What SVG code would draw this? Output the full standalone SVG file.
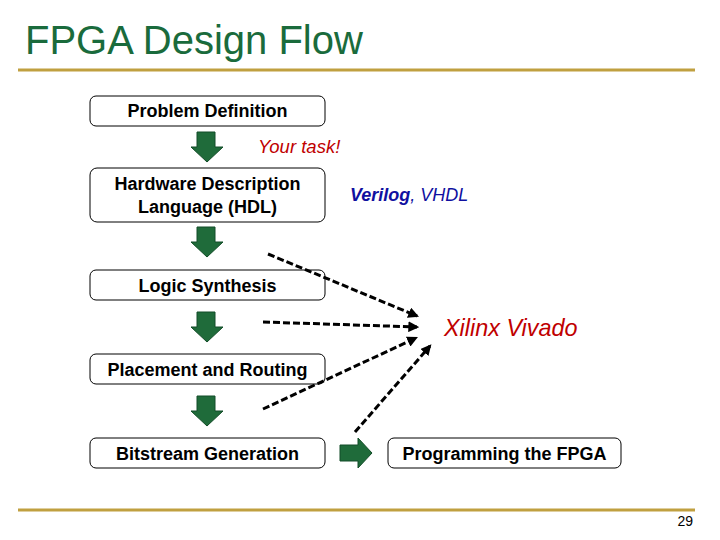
<svg xmlns="http://www.w3.org/2000/svg" width="720" height="540" viewBox="0 0 720 540">
<defs>
<style>
.box{fill:#fff;stroke:#000;stroke-width:1}
.bt{font-family:"Liberation Sans",Arial,sans-serif;font-weight:bold;font-size:18px;fill:#000;text-anchor:middle}
.ga{fill:#1f6b3a;stroke:#134d28;stroke-width:1}
.dash{fill:none;stroke:#000;stroke-width:3;stroke-dasharray:7 3;marker-end:url(#ah)}
.rule{stroke:#c0a040;stroke-width:3}
</style>
<marker id="ah" viewBox="0 0 10 10" refX="8" refY="5" markerWidth="3.6" markerHeight="3.6" orient="auto" markerUnits="strokeWidth">
<path d="M0,0 L10,5 L0,10 z" fill="#000"/>
</marker>
</defs>
<rect width="720" height="540" fill="#fff"/>
<text x="25" y="54" font-family="Liberation Sans,Arial,sans-serif" font-size="40" fill="#1a6b3c">FPGA Design Flow</text>
<line class="rule" x1="18" y1="70" x2="695" y2="70"/>
<line class="rule" x1="18" y1="510" x2="695" y2="510"/>
<text x="693" y="526" font-family="Liberation Sans,Arial,sans-serif" font-size="14" text-anchor="end" fill="#000">29</text>

<g id="n1"><rect class="box" x="90" y="96" width="235" height="30" rx="6"/><text class="bt" x="207.5" y="117">Problem Definition</text></g>
<g id="n2"><rect class="box" x="90" y="168" width="235" height="54" rx="7"/><text class="bt" x="207.5" y="190">Hardware Description</text><text class="bt" x="207.5" y="213">Language (HDL)</text></g>
<g id="n3"><rect class="box" x="90" y="270" width="235" height="30" rx="6"/><text class="bt" x="207.5" y="292">Logic Synthesis</text></g>
<g id="n4"><rect class="box" x="90" y="354" width="235" height="30" rx="6"/><text class="bt" x="207.5" y="376">Placement and Routing</text></g>
<g id="n5"><rect class="box" x="90" y="438" width="235" height="30" rx="6"/><text class="bt" x="207.5" y="460">Bitstream Generation</text></g>
<g id="n6"><rect class="box" x="388" y="438" width="233" height="30" rx="6"/><text class="bt" x="504.5" y="460">Programming the FPGA</text></g>

<g id="labels" font-family="Liberation Sans,Arial,sans-serif" font-style="italic">
<text x="258" y="153" font-size="18.5" fill="#c00000">Your task!</text>
<text x="350" y="201" font-size="18" fill="#1010a0"><tspan font-weight="bold">Verilog</tspan>, VHDL</text>
<text x="444" y="336" font-size="23.4" fill="#c00000">Xilinx Vivado</text>
</g>

<g id="connectors">
<path class="ga" d="M197,132 H215 V147 H223 L207,162 L191,147 H197 Z"/>
<path class="ga" d="M197,227 H215 V242 H223 L207,257 L191,242 H197 Z"/>
<path class="ga" d="M197,312 H215 V327 H223 L207,342 L191,327 H197 Z"/>
<path class="ga" d="M197,396 H215 V411 H223 L207,426 L191,411 H197 Z"/>
<path class="ga" d="M340,445 H358 V438 L372,453 L358,468 V461 H340 Z"/>
<path class="dash" d="M268,254 L417,316"/>
<path class="dash" d="M263,322 L417,327"/>
<path class="dash" d="M263,409 L416,338"/>
<path class="dash" d="M355,432 L430,346"/>
</g>
</svg>
